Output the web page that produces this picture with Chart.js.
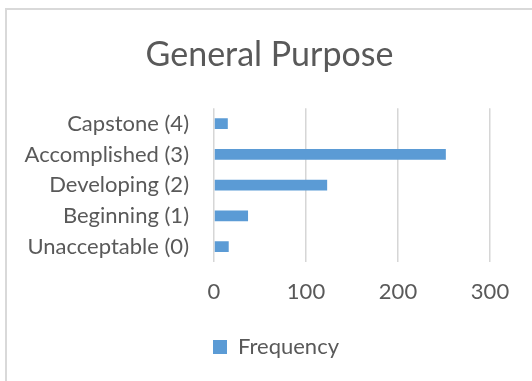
<!DOCTYPE html>
<html>
<head>
<meta charset="utf-8">
<script src="https://cdn.jsdelivr.net/npm/chart.js@4.4.1/dist/chart.umd.min.js"></script>
<style>
  html, body { margin: 0; padding: 0; background: #ffffff; }
  #wrap { position: relative; width: 532px; height: 381px; overflow: hidden; }
  #frame { position: absolute; left: 5px; top: 8px; width: 600px; height: 500px;
           border: 2px solid #d9d9d9; box-sizing: border-box; }
  canvas { position: absolute; left: 0; top: 0; }
</style>
</head>
<body>
<div id="wrap">
  <div id="frame"></div>
  <canvas id="chart" width="532" height="381"></canvas>
</div>
<script>
// Rubric levels, listed from the lowest score upward
const categories = [
  'Unacceptable (0)',
  'Beginning (1)',
  'Developing (2)',
  'Accomplished (3)',
  'Capstone (4)'
];
// Number of ratings at each level
const frequency = [16, 37, 123, 252, 15];
// Value axis ticks
const xTicks = [0, 100, 200, 300];

const seriesName = 'Frequency';
const chartTitle = 'General Purpose';

const FONT = 'Lato, "Open Sans", sans-serif';
const TEXT = '#595959';
const BAR = '#5B9BD5';

// Centre the title and legend on the whole frame rather than on the plot column
const frameCentering = {
  id: 'frameCentering',
  afterLayout(chart) {
    if (chart.titleBlock) { chart.titleBlock.left = 0; chart.titleBlock.right = chart.width + 7; }
    if (chart.legend) { chart.legend.left = 0; chart.legend.right = chart.width + 20; }
  }
};

new Chart(document.getElementById('chart'), {
  type: 'bar',
  data: {
    labels: categories,
    datasets: [{
      label: seriesName,
      data: frequency,
      backgroundColor: BAR,
      borderWidth: 0,
      categoryPercentage: 1.0,
      barPercentage: 0.35
    }]
  },
  options: {
    indexAxis: 'y',
    responsive: false,
    animation: false,
    devicePixelRatio: 1,
    layout: { padding: { left: 0, right: 42, top: 0, bottom: 13 } },
    scales: {
      x: {
        min: xTicks[0],
        max: xTicks[xTicks.length - 1],
        ticks: {
          stepSize: xTicks[1] - xTicks[0],
          color: TEXT,
          padding: 17,
          font: { family: FONT, size: 22 }
        },
        grid: { color: '#d6d6d6', lineWidth: 1.5, drawTicks: false },
        border: { display: false },
        afterFit: (s) => { s.height = 64; }
      },
      y: {
        reverse: true,
        ticks: {
          color: TEXT,
          padding: 25,
          font: { family: FONT, size: 22 }
        },
        grid: { display: false, drawTicks: false },
        border: { display: false },
        afterFit: (s) => { s.width = 214; }
      }
    },
    plugins: {
      title: {
        display: true,
        text: chartTitle,
        color: TEXT,
        font: { family: FONT, size: 34, weight: 'normal' },
        padding: { top: 35, bottom: 32.5 }
      },
      legend: {
        position: 'bottom',
        labels: {
          color: TEXT,
          boxWidth: 14,
          boxHeight: 14,
          padding: 10,
          font: { family: FONT, size: 22 }
        }
      },
      tooltip: { enabled: false }
    }
  },
  plugins: [frameCentering]
});
</script>
</body>
</html>
